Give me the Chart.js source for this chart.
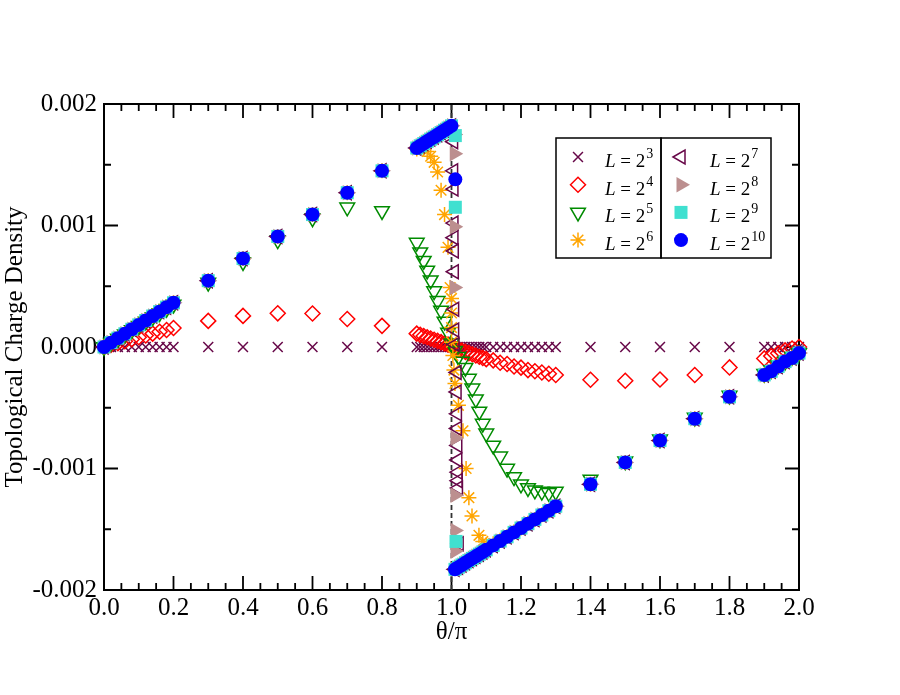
<!DOCTYPE html>
<html>
<head>
<meta charset="utf-8">
<title>Topological Charge Density</title>
<script src="https://cdn.jsdelivr.net/npm/chart.js@4.4.1/dist/chart.umd.min.js"></script>
<style>
  html, body { margin: 0; padding: 0; background: #fff; }
  #wrap { width: 900px; height: 695px; }
</style>
</head>
<body>
<div id="wrap"><canvas id="chargeChart" width="900" height="695"></canvas></div>
<script>
// theta/pi grid away from the jump at pi
const thetaOuter = [0, 0.02, 0.04, 0.06, 0.08, 0.1, 0.12, 0.14, 0.16, 0.18, 0.2,
    0.3, 0.4, 0.5, 0.6, 0.7, 0.8,
    1.4, 1.5, 1.6, 1.7, 1.8,
    1.9, 1.92, 1.94, 1.96, 1.98, 2.0];
// theta/pi grid around pi
const thetaNear = [0.9, 0.91, 0.92, 0.93, 0.94, 0.95, 0.96, 0.97, 0.98, 0.99, 1.0,
    1.01, 1.02, 1.03, 1.04, 1.05, 1.06, 1.07, 1.08, 1.09, 1.1,
    1.12, 1.14, 1.16, 1.18, 1.2, 1.22, 1.24, 1.26, 1.28, 1.3];

const qOuterL3 = [0, 0, 0, 0, 0, 0, 0, 0, 0, 0, 0, 0, 0, 0, 0, 0, 0, 0, 0, 0, 0, 0, 0, 0, 0, 0, 0, 0];
const qNearL3 = [0, 0, 0, 0, 0, 0, 0, 0, 0, 0, 0, 0, 0, 0, 0, 0, 0, 0, 0, 0, 0, 0, 0, 0, 0, 0, 0, 0, 0, 0, 0];

const qOuterL4 = [0, 0.000016, 0.000032, 0.000048, 0.000064, 0.00008, 0.000095, 0.00011, 0.000125, 0.00014, 0.000156,
    0.000215, 0.000256, 0.000277, 0.000276, 0.00023, 0.000174,
    -0.00027, -0.000278, -0.000267, -0.00023, -0.000168,
    -0.000094, -0.000075, -0.000052, -0.000028, -0.000012, 0];
const qNearL4 = [0.00011, 0.0001, 0.00009, 0.00008, 0.00007, 0.00006, 0.00005, 0.00004, 0.00003, 0.00002, 0.00001,
    -0.00001, -0.00002, -0.00003, -0.00004, -0.00005, -0.00006, -0.00007, -0.00008, -0.00009, -0.0001,
    -0.00011, -0.00013, -0.00014, -0.00016, -0.00017, -0.00019, -0.0002, -0.00021, -0.00022, -0.00023];

const qOuterL5 = [0, 0.000035, 0.00007, 0.000105, 0.00014, 0.000175, 0.00021, 0.000245, 0.00028, 0.000315, 0.00035,
    0.00053, 0.0007, 0.00088, 0.00106, 0.00115, 0.00112,
    -0.00109, -0.00094, -0.00076, -0.00058, -0.0004,
    -0.00022, -0.00019, -0.00015, -0.00012, -0.00008, -0.00005];
const qNearL5 = [0.00086, 0.00078, 0.00071, 0.00063, 0.00055, 0.00046, 0.00038, 0.0003, 0.00021, 0.00012, 0.00003,
    -0.00003, -0.00008, -0.00012, -0.00017, -0.00026, -0.00034, -0.00043, -0.00053, -0.00063, -0.00071,
    -0.00081, -0.0009, -0.001, -0.00107, -0.00113, -0.00116, -0.00118, -0.00119, -0.0012, -0.00119];

// L >= 2^6 lie on top of each other away from pi
const qOuterLarge = [0, 0.000036, 0.000073, 0.000109, 0.000146, 0.000182, 0.000218, 0.000255, 0.000291, 0.000328, 0.000364,
    0.000546, 0.000728, 0.00091, 0.00109, 0.00127, 0.00145,
    -0.00113, -0.00095, -0.00077, -0.00059, -0.00041,
    -0.00023, -0.0002, -0.00016, -0.00012, -0.00009, -0.00005];
const qNearLarge = [0.001638, 0.001656, 0.001674, 0.001693, 0.001711, 0.001729, 0.001747, 0.001765, 0.001784, 0.001802, 0.00182,
    -0.00183, -0.001812, -0.001794, -0.001776, -0.001758, -0.00174, -0.001723, -0.001705, -0.001687, -0.001669,
    -0.001633, -0.001597, -0.001562, -0.001526, -0.00149, -0.001454, -0.001419, -0.001383, -0.001347, -0.001311];

const thetaNearL6 = [0.9, 0.91, 0.92, 0.93, 0.94, 0.95, 0.96, 0.97, 0.98, 0.99, 0.996, 1.0, 1.0, 1.0, 1.0,
    1.004, 1.007, 1.01, 1.02, 1.033, 1.042, 1.05, 1.059, 1.079, 1.09, 1.1,
    1.12, 1.14, 1.16, 1.18, 1.2, 1.22, 1.24, 1.26, 1.28, 1.3];
const qNearL6 = [0.00163, 0.00164, 0.00164, 0.00161, 0.00157, 0.00152, 0.00144, 0.00129, 0.00109, 0.00082, 0.00049,
    0.0004, 0.00028, 0.00016, 0.00004,
    -0.00007, -0.00019, -0.0003, -0.00048, -0.00069, -0.001, -0.00124, -0.00139, -0.00155, -0.0016, -0.00163,
    -0.00162, -0.00159, -0.00156, -0.00152, -0.00149, -0.00145, -0.00142, -0.00138, -0.00135, -0.00131];

// points inside the jump
const thetaJumpL7 = [1.006, 1.006, 1.007, 1.007, 1.007, 1.008, 1.008, 1.009, 1.009, 1.01,
    1.016, 1.016, 1.017, 1.017, 1.018, 1.018, 1.019, 1.019, 1.02, 1.022];
const qJumpL7 = [0.00169, 0.00145, 0.0013, 0.00102, 0.0009, 0.00079, 0.00062, 0.00031, 0.00014, 0.00002,
    -0.00021, -0.00037, -0.00055, -0.00067, -0.00081, -0.00093, -0.00103, -0.0011, -0.00116, -0.00162];
const thetaJumpL8 = [1.008, 1.008, 1.008, 1.008, 1.01, 1.01, 1.01, 1.01];
const qJumpL8 = [0.00175, 0.00159, 0.00099, 0.00049, -0.00075, -0.00122, -0.00151, -0.00168];
const thetaJumpL9 = [1.011, 1.011, 1.013];
const qJumpL9 = [0.00174, 0.00115, -0.0016];
const thetaJumpL10 = [1.011];
const qJumpL10 = [0.00138];

const piLineX = [1, 1];
const piLineY = [-0.002, 0.002];

const exponents = [3, 4, 5, 6, 7, 8, 9, 10];

const serif = '"Liberation Serif", "DejaVu Serif", serif';
const maroon = '#670748';
const none = 'rgba(0,0,0,0)';

function pts(xs, ys) {
    return xs.map((x, i) => ({ x: x, y: ys[i] }));
}

function marker(label, data, style, rot, r, fill, line, bw, order) {
    return {
        label: label,
        data: data,
        pointStyle: style,
        pointRotation: rot,
        pointRadius: r,
        pointHoverRadius: r,
        pointBackgroundColor: fill,
        pointBorderColor: line,
        pointBorderWidth: bw,
        backgroundColor: fill,
        borderColor: line,
        showLine: false,
        clip: false,
        order: order
    };
}

const datasets = [
    marker('L3', pts(thetaOuter, qOuterL3).concat(pts(thetaNear, qNearL3)),
        'crossRot', 0, 7, none, maroon, 1.5, 8),
    marker('L4', pts(thetaOuter, qOuterL4).concat(pts(thetaNear, qNearL4)),
        'rectRot', 0, 7.5, none, '#ff0000', 1.5, 7),
    marker('L5', pts(thetaOuter, qOuterL5).concat(pts(thetaNear, qNearL5)),
        'triangle', 180, 8.5, none, '#008b00', 1.5, 6),
    marker('L6', pts(thetaOuter, qOuterLarge).concat(pts(thetaNearL6, qNearL6)),
        'star', 0, 7.5, none, '#ffa500', 1.5, 5),
    marker('L7', pts(thetaOuter, qOuterLarge).concat(pts(thetaNear, qNearLarge), pts(thetaJumpL7, qJumpL7)),
        'triangle', 270, 8, none, maroon, 1.5, 4),
    marker('L8', pts(thetaOuter, qOuterLarge).concat(pts(thetaNear, qNearLarge), pts(thetaJumpL8, qJumpL8)),
        'triangle', 90, 9, '#bc8f8f', '#bc8f8f', 0, 3),
    marker('L9', pts(thetaOuter, qOuterLarge).concat(pts(thetaNear, qNearLarge), pts(thetaJumpL9, qJumpL9)),
        'rect', 0, 9.2, '#40e0d0', '#40e0d0', 0, 2),
    marker('L10', pts(thetaOuter, qOuterLarge).concat(pts(thetaNear, qNearLarge), pts(thetaJumpL10, qJumpL10)),
        'circle', 0, 7, '#0000ff', '#0000ff', 0, 1),
    {
        label: 'pi',
        data: pts(piLineX, piLineY),
        showLine: true,
        pointRadius: 0,
        borderColor: '#333',
        borderWidth: 1.8,
        borderDash: [5, 3],
        clip: false,
        order: 9
    }
];

// box frame with inward ticks on all four sides
const frameTicks = {
    id: 'frameTicks',
    beforeDatasetsDraw(chart) {
        const { ctx, chartArea: a, scales: { x, y } } = chart;
        ctx.save();
        ctx.strokeStyle = '#000';
        ctx.lineWidth = 1.8;
        ctx.beginPath();
        for (let i = 0; i <= 40; i++) {
            const px = x.getPixelForValue(i * 0.05);
            const len = i % 4 === 0 ? 14 : 7;
            ctx.moveTo(px, a.bottom); ctx.lineTo(px, a.bottom - len);
            ctx.moveTo(px, a.top); ctx.lineTo(px, a.top + len);
        }
        for (let i = -4; i <= 4; i++) {
            const py = y.getPixelForValue(i * 0.0005);
            const len = i % 2 === 0 ? 14 : 7;
            ctx.moveTo(a.left, py); ctx.lineTo(a.left + len, py);
            ctx.moveTo(a.right, py); ctx.lineTo(a.right - len, py);
        }
        ctx.stroke();
        ctx.lineWidth = 2;
        ctx.strokeRect(a.left, a.top, a.right - a.left, a.bottom - a.top);
        ctx.restore();
    }
};

// two boxed legend columns, like the original
const boxLegend = {
    id: 'boxLegend',
    afterDraw(chart) {
        const ctx = chart.ctx;
        ctx.save();
        ctx.strokeStyle = '#000';
        ctx.lineWidth = 1.5;
        ctx.strokeRect(556, 138, 105, 120);
        ctx.strokeRect(661, 138, 110, 120);
        for (let i = 0; i < 8; i++) {
            const ds = chart.data.datasets[i];
            const col = i < 4 ? 0 : 1;
            const sx = col ? 681 : 578;
            const sy = 157 + (i % 4) * 27.7;
            ctx.fillStyle = ds.pointBackgroundColor;
            ctx.strokeStyle = ds.pointBorderColor;
            ctx.lineWidth = ds.pointBorderWidth;
            Chart.helpers.drawPoint(ctx, {
                pointStyle: ds.pointStyle,
                rotation: ds.pointRotation,
                radius: ds.pointRadius,
                borderWidth: ds.pointBorderWidth
            }, sx, sy);

            let tx = col ? 710 : 605;
            const by = sy + 10;
            ctx.fillStyle = '#000';
            ctx.textAlign = 'left';
            ctx.textBaseline = 'alphabetic';
            ctx.font = 'italic 19px ' + serif;
            ctx.fillText('L', tx, by);
            tx += ctx.measureText('L').width;
            ctx.font = '19px ' + serif;
            ctx.fillText(' = 2', tx, by);
            tx += ctx.measureText(' = 2').width;
            ctx.font = '14px ' + serif;
            ctx.fillText(String(exponents[i]), tx + 1, by - 9);
        }
        ctx.restore();
    }
};

new Chart(document.getElementById('chargeChart'), {
    type: 'scatter',
    data: { datasets: datasets },
    options: {
        responsive: false,
        animation: false,
        events: [],
        layout: { padding: { top: 104, right: 101, left: 0, bottom: 0 } },
        plugins: {
            legend: { display: false },
            tooltip: { enabled: false }
        },
        scales: {
            x: {
                type: 'linear',
                min: 0,
                max: 2,
                grid: { display: false, drawTicks: false },
                border: { display: false },
                ticks: {
                    stepSize: 0.2,
                    padding: 3,
                    color: '#000',
                    font: { family: serif, size: 25 },
                    maxRotation: 0,
                    callback: v => v.toFixed(1)
                },
                title: {
                    display: true,
                    text: 'θ/π',
                    color: '#000',
                    font: { family: serif, size: 25 },
                    padding: { top: 0, bottom: 48 }
                },
                afterFit: s => { s.height = 105; }
            },
            y: {
                type: 'linear',
                min: -0.002,
                max: 0.002,
                grid: { display: false, drawTicks: false },
                border: { display: false },
                ticks: {
                    stepSize: 0.001,
                    padding: 7,
                    color: '#000',
                    font: { family: serif, size: 25 },
                    callback: v => (Math.abs(v) < 1e-9 ? 0 : v).toFixed(3)
                },
                title: {
                    display: true,
                    text: 'Topological Charge Density',
                    color: '#000',
                    font: { family: serif, size: 25 },
                    padding: { top: 0, bottom: 0 }
                },
                afterFit: s => { s.width = 104; }
            }
        }
    },
    plugins: [frameTicks, boxLegend]
});
</script>
</body>
</html>
